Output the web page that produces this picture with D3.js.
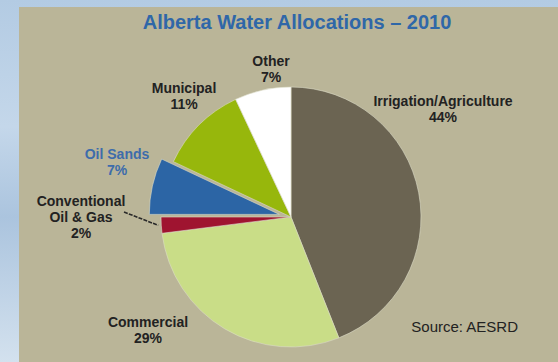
<!DOCTYPE html>
<html>
<head>
<meta charset="utf-8">
<script src="https://cdn.jsdelivr.net/npm/d3@7"></script>
<style>
  html, body { margin: 0; padding: 0; background: #c2d5e8; }
  svg { display: block; }
</style>
</head>
<body>
<svg id="chart" width="558" height="362"></svg>
<script>
// Water allocation shares by sector, clockwise from 12 o'clock
const sectors = ["Irrigation/Agriculture", "Commercial", "Conventional Oil & Gas", "Oil Sands", "Municipal", "Other"];
const shares = [44, 29, 2, 7, 11, 7];
const sliceColors = ["#6b6452", "#c9dd87", "#9f1430", "#2c65a5", "#97b70c", "#ffffff"];
const labelLines = [
  ["Irrigation/Agriculture", "44%"],
  ["Commercial", "29%"],
  ["Conventional", "Oil & Gas", "2%"],
  ["Oil Sands", "7%"],
  ["Municipal", "11%"],
  ["Other", "7%"]
];
const titleText = "Alberta Water Allocations \u2013 2010";
const sourceText = "Source: AESRD";

const W = 558, H = 362;
const svg = d3.select("#chart");

// Backdrop: pale blue slide gradient with a khaki chart panel
const defs = svg.append("defs");
const bg = defs.append("linearGradient").attr("id", "bgGrad")
  .attr("x1", 0).attr("y1", 0).attr("x2", 0).attr("y2", 1);
bg.append("stop").attr("offset", "0%").attr("stop-color", "#b3cbe3");
bg.append("stop").attr("offset", "35%").attr("stop-color", "#c4d7ea");
bg.append("stop").attr("offset", "60%").attr("stop-color", "#abc4de");
bg.append("stop").attr("offset", "100%").attr("stop-color", "#d3e1ee");
svg.append("rect").attr("width", W).attr("height", H).attr("fill", "url(#bgGrad)");

const panel = { x: 19, y: 7 };
svg.append("rect")
  .attr("x", panel.x).attr("y", panel.y)
  .attr("width", W - panel.x).attr("height", H - panel.y)
  .attr("fill", "#bab598");

// Title
svg.append("text")
  .attr("x", 297).attr("y", 29)
  .attr("text-anchor", "middle")
  .attr("font-family", "Liberation Sans, Arial, sans-serif")
  .attr("font-weight", "bold")
  .attr("font-size", 20)
  .attr("fill", "#2f67a8")
  .text(titleText);

// Pie
const cx = 291, cy = 217, R = 130;
const pie = d3.pie().sort(null).value(d => d)(shares);
const arc = d3.arc().innerRadius(0).outerRadius(R);
const explodeIndex = 3;
const explodeDist = 12;

const g = svg.append("g").attr("transform", `translate(${cx},${cy})`);
g.selectAll("path.slice")
  .data(pie)
  .join("path")
  .attr("class", "slice")
  .attr("d", arc)
  .attr("fill", (d, i) => sliceColors[i])
  .attr("stroke", "#dcdcc8")
  .attr("stroke-width", 0.6)
  .attr("transform", (d, i) => {
    if (i !== explodeIndex) return null;
    const mid = (d.startAngle + d.endAngle) / 2;
    return `translate(${Math.sin(mid) * explodeDist},${-Math.cos(mid) * explodeDist})`;
  });

// Label placement (centre of first line) and styling
const labelAnchors = [
  [443, 106], [148, 327], [81, 206], [117, 159], [184, 93], [271, 66]
];
const labelColors = ["#222", "#222", "#222", "#3d6cab", "#222", "#222"];
const lineH = 16;

// Leader line from the small Conventional Oil & Gas slice
const conv = pie[2];
const convMid = (conv.startAngle + conv.endAngle) / 2;
const leaderEnd = [cx + Math.sin(convMid) * (R + 3), cy - Math.cos(convMid) * (R + 3)];
svg.append("line")
  .attr("x1", 124).attr("y1", 212)
  .attr("x2", leaderEnd[0]).attr("y2", leaderEnd[1])
  .attr("stroke", "#2a2a2a")
  .attr("stroke-width", 1.6)
  .attr("stroke-dasharray", "4,1.2");

const labels = svg.append("g")
  .attr("font-family", "Liberation Sans, Arial, sans-serif")
  .attr("font-weight", "bold")
  .attr("font-size", 14)
  .attr("text-anchor", "middle");

labelLines.forEach((lines, i) => {
  const t = labels.append("text")
    .attr("x", labelAnchors[i][0])
    .attr("y", labelAnchors[i][1])
    .attr("fill", labelColors[i]);
  lines.forEach((ln, j) => {
    t.append("tspan")
      .attr("x", labelAnchors[i][0])
      .attr("dy", j === 0 ? 0 : lineH)
      .text(ln);
  });
});

// Source note
svg.append("text")
  .attr("x", 518).attr("y", 332)
  .attr("text-anchor", "end")
  .attr("font-family", "Liberation Sans, Arial, sans-serif")
  .attr("font-size", 15)
  .attr("fill", "#222")
  .text(sourceText);
</script>
</body>
</html>
